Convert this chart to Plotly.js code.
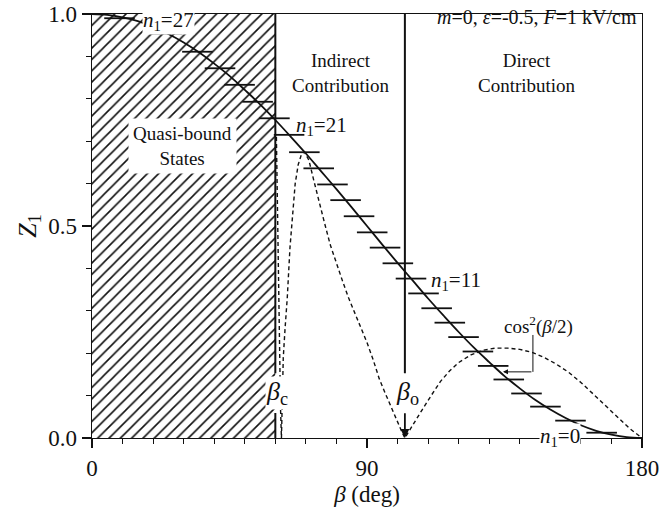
<!DOCTYPE html>
<html><head><meta charset="utf-8">
<script src="https://cdn.plot.ly/plotly-3.0.1.min.js"></script>
<style>html,body{margin:0;padding:0;background:#fff}#chart{width:664px;height:508px}</style>
</head><body><div id="chart"></div>
<script>
// Solid curve Z1(beta)
const curveBeta = [0,5,10,15,20,25,30,35,40,45,50,55,60,65,70,75,80,85,90,95,100,105,110,115,120,125,130,135,140,145,150,155,160,165,170,175,180];
const curveZ = [1.000,0.998,0.992,0.983,0.970,0.953,0.933,0.910,0.883,0.854,0.821,0.787,0.750,0.711,0.671,0.629,0.587,0.544,0.500,0.456,0.413,0.371,0.329,0.289,0.250,0.213,0.179,0.146,0.117,0.090,0.067,0.047,0.030,0.017,0.008,0.002,0.000];

// Dashed curve
const dashBeta = [60.35,60.8,61.3,61.7,62.0,62.3,62.6,63.2,63.9,64.8,65.6,66.5,67.5,68.5,69.5,71,72.5,74,76,78,80,82,84,86,88,90,92,94,96,98,100,101.5,102.4,104,106,108,111,114,117,120,124,128,132,136,140,144,148,152,156,160,164,168,172,176,180];
const dashZ = [0.71,0.45,0.20,0.07,0.0,0.10,0.19,0.26,0.33,0.45,0.53,0.60,0.645,0.668,0.675,0.655,0.61,0.565,0.51,0.455,0.41,0.37,0.33,0.295,0.26,0.225,0.185,0.14,0.105,0.07,0.037,0.013,0.0,0.018,0.042,0.066,0.10,0.133,0.158,0.178,0.196,0.207,0.212,0.212,0.209,0.202,0.19,0.174,0.155,0.131,0.104,0.076,0.048,0.022,0.0];

// Stark levels n1 = 27 ... 0
const levelN1 = [27,26,25,24,23,22,21,20,19,18,17,16,15,14,13,12,11,10,9,8,7,6,5,4,3,2,1,0];
const levelZ  = [0.990,0.954,0.911,0.872,0.833,0.793,0.754,0.715,0.674,0.636,0.598,0.561,0.523,0.485,0.449,0.412,0.376,0.341,0.306,0.272,0.238,0.204,0.170,0.138,0.105,0.074,0.041,0.0125];
const levelLo = [4.0,19.6,29.5,36.9,43.3,49.2,54.7,59.5,64.5,69.2,73.7,78.0,82.4,86.7,90.9,95.1,99.4,103.5,107.8,112.1,116.6,121.3,126.3,131.4,137.2,143.4,151.6,161.8];
const levelHi = [14.0,29.6,39.5,46.9,53.3,59.2,64.7,69.5,74.5,79.2,83.7,88.0,92.4,96.7,100.9,105.1,109.4,113.5,117.8,122.1,126.6,131.3,136.3,141.4,147.2,153.4,161.6,171.8];

// Regions / markers
const quasiBound = [0, 60];
const betaC = 60;
const betaO = 102.4;

const FONT = 'Liberation Serif, Times New Roman, serif';

const barX = [], barY = [];
levelZ.forEach((z, i) => { barX.push(levelLo[i], levelHi[i], null); barY.push(z, z, null); });

const traces = [
  {x:[quasiBound[0],quasiBound[0],quasiBound[1],quasiBound[1],quasiBound[0]], y:[0,1,1,0,0],
   fill:'toself', mode:'lines', line:{width:0, color:'rgba(0,0,0,0)'}, fillcolor:'#fff',
   fillpattern:{shape:'/', size:8, solidity:0.2, fgcolor:'#111', bgcolor:'#fff'}, hoverinfo:'skip'},
  {x:dashBeta, y:dashZ, mode:'lines', line:{color:'#111', width:1.4, dash:'4px,3px'}, hoverinfo:'skip'},
  {x:curveBeta, y:curveZ, mode:'lines', line:{color:'#111', width:1.8, shape:'spline'}, hoverinfo:'skip'},
  {x:barX, y:barY, mode:'lines', line:{color:'#111', width:1.8}, hoverinfo:'skip'}
];

const ann = (x, y, text, size, extra) => Object.assign({x, y, xref:'x', yref:'y', text, showarrow:false, font:{family:FONT, size:size, color:'#111'}}, extra || {});

const layout = {
  width:664, height:508,
  margin:{l:92, r:22, t:14, b:70},
  paper_bgcolor:'#fff', plot_bgcolor:'#fff',
  showlegend:false,
  font:{family:FONT, color:'#111'},
  xaxis:{range:[0,180], tick0:0, dtick:90, ticks:'outside', ticklen:9, tickwidth:1.3, tickcolor:'#111',
    minor:{tickmode:'linear', tick0:0, dtick:10, ticks:'outside', ticklen:5, tickwidth:1.1, tickcolor:'#111'},
    showline:true, linecolor:'#111', linewidth:1.4, mirror:true, showgrid:false, zeroline:false,
    tickfont:{family:FONT, size:23, color:'#111'},
    title:{text:'<i>β</i> (deg)', font:{family:FONT, size:23, color:'#111'}, standoff:6}},
  yaxis:{range:[0,1], tick0:0, dtick:0.5, tickformat:'.1f', ticks:'outside', ticklen:9, tickwidth:1.3, tickcolor:'#111',
    minor:{tickmode:'linear', tick0:0, dtick:0.1, ticks:'outside', ticklen:5, tickwidth:1.1, tickcolor:'#111'},
    showline:true, linecolor:'#111', linewidth:1.4, mirror:true, showgrid:false, zeroline:false,
    tickfont:{family:FONT, size:23, color:'#111'},
    title:{text:'<i>Z</i><sub>1</sub>', font:{family:FONT, size:26, color:'#111'}, standoff:4}},
  shapes:[
    {type:'line', xref:'x', yref:'y', x0:betaC, x1:betaC, y0:0.153, y1:1, line:{color:'#111', width:2}},
    {type:'line', xref:'x', yref:'y', x0:betaC, x1:betaC, y0:0, y1:0.059, line:{color:'#111', width:2}},
    {type:'line', xref:'x', yref:'y', x0:betaO, x1:betaO, y0:0.153, y1:1, line:{color:'#111', width:2}},
    {type:'line', xref:'x', yref:'y', x0:144.3, x1:144.3, y0:0.243, y1:0.156, line:{color:'#111', width:1}}
  ],
  annotations:[
    ann(29.5, 0.689, 'Quasi-bound<br>States', 19, {bgcolor:'#fff', borderpad:4}),
    ann(81.5, 0.861, 'Indirect<br>Contribution', 19),
    ann(142.5, 0.861, 'Direct<br>Contribution', 19),
    ann(178.9, 0.993, '<i>m</i>=0, <i>ε</i>=-0.5, <i>F</i>=1 kV/cm', 20, {xanchor:'right'}),
    ann(25.0, 0.983, '<i>n</i><sub>1</sub>=27', 21, {bgcolor:'#fff', borderpad:0}),
    ann(66.0, 0.735, '<i>n</i><sub>1</sub>=21', 21, {xanchor:'left'}),
    ann(110.4, 0.37, '<i>n</i><sub>1</sub>=11', 21, {xanchor:'left'}),
    ann(153.0, 0.003, '<i>n</i><sub>1</sub>=0', 21, {bgcolor:'#fff', borderpad:0}),
    ann(146, 0.266, 'cos<sup>2</sup>(<i>β</i>/2)', 19),
    ann(betaC + 0.4, 0.105, '<i>β</i><sub>c</sub>', 26, {bgcolor:'#fff', borderpad:0}),
    ann(betaO + 1.0, 0.105, '<i>β</i><sub>o</sub>', 26),
    {x:betaO, y:0, xref:'x', yref:'y', ax:betaO, ay:0.062, axref:'x', ayref:'y', text:'', showarrow:true, arrowhead:2, arrowsize:1, arrowwidth:1.8, arrowcolor:'#111'},
    {x:134.5, y:0.156, xref:'x', yref:'y', ax:144.3, ay:0.156, axref:'x', ayref:'y', text:'', showarrow:true, arrowhead:2, arrowsize:1, arrowwidth:1, arrowcolor:'#111'}
  ]
};

Plotly.newPlot('chart', traces, layout, {displayModeBar:false, staticPlot:true});
</script></body></html>
